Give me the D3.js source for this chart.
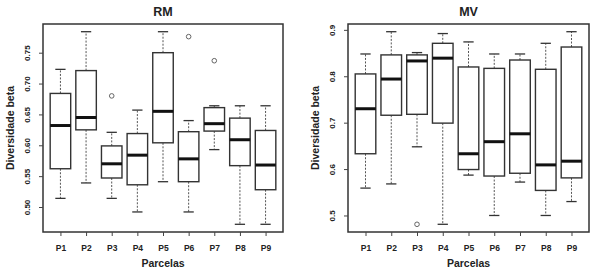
<!DOCTYPE html>
<html>
<head>
<meta charset="utf-8">
<script src="https://cdn.jsdelivr.net/npm/d3@7"></script>
<style>
  body { margin: 0; background: #fff; }
  text { font-family: "Liberation Sans", Arial, sans-serif; font-weight: bold; fill: #222; }
</style>
</head>
<body>
<svg id="chart" width="595" height="272"></svg>
<script>
// parcel names
var parcels = ["P1", "P2", "P3", "P4", "P5", "P6", "P7", "P8", "P9"];

// RM: whisker low, q1, median, q3, whisker high
var rmLow  = [0.514, 0.539, 0.514, 0.492, 0.541, 0.492, 0.593, 0.472, 0.472];
var rmQ1   = [0.562, 0.625, 0.547, 0.536, 0.604, 0.541, 0.623, 0.567, 0.528];
var rmMed  = [0.632, 0.645, 0.570, 0.584, 0.655, 0.578, 0.635, 0.609, 0.568];
var rmQ3   = [0.684, 0.721, 0.599, 0.619, 0.750, 0.622, 0.661, 0.644, 0.624];
var rmHigh = [0.723, 0.784, 0.621, 0.657, 0.784, 0.640, 0.664, 0.664, 0.664];
var rmOut  = [[], [], [0.680], [], [], [0.776], [0.737], [], []];
var rmTicks = ["0.50", "0.55", "0.60", "0.65", "0.70", "0.75"];

// MV
var mvLow  = [0.559, 0.568, 0.648, 0.481, 0.587, 0.500, 0.572, 0.500, 0.530];
var mvQ1   = [0.633, 0.716, 0.718, 0.699, 0.599, 0.585, 0.591, 0.554, 0.581];
var mvMed  = [0.730, 0.794, 0.833, 0.839, 0.633, 0.659, 0.676, 0.609, 0.617];
var mvQ3   = [0.805, 0.846, 0.846, 0.871, 0.820, 0.817, 0.835, 0.815, 0.863];
var mvHigh = [0.848, 0.896, 0.851, 0.892, 0.874, 0.848, 0.848, 0.871, 0.896];
var mvOut  = [[], [], [0.481], [], [], [], [], [], []];
var mvTicks = ["0.5", "0.6", "0.7", "0.8", "0.9"];

var svg = d3.select("#chart");

function panel(title, low, q1, med, q3, high, out, ticks, box) {
  var rows = parcels.map(function(p, i) {
    return {name: p, low: low[i], q1: q1[i], med: med[i], q3: q3[i], high: high[i], out: out[i]};
  });

  var all = low.concat(high, d3.merge(out));
  var mn = d3.min(all), mx = d3.max(all), pad = (mx - mn) * 0.04;

  var y = d3.scaleLinear()
    .domain([mn - pad, mx + pad])
    .range([box.bottom, box.top]);

  var x = d3.scalePoint()
    .domain(parcels)
    .range([box.left, box.right])
    .padding(0.68);

  var step = x.step();
  var bw = step * 0.8;

  var g = svg.append("g");

  // frame
  g.append("rect")
    .attr("x", box.left).attr("y", box.top)
    .attr("width", box.right - box.left).attr("height", box.bottom - box.top)
    .attr("fill", "none").attr("stroke", "#333").attr("stroke-width", 1.5);

  // axes
  var yAxis = g.append("g")
    .attr("transform", `translate(${box.left},0)`)
    .call(d3.axisLeft(y).tickValues(ticks.map(Number)).tickFormat((d, i) => ticks[i]).tickSize(4));
  yAxis.select(".domain").remove();
  yAxis.selectAll("line").attr("stroke", "#444");
  yAxis.selectAll("text")
    .attr("x", null).attr("y", null).attr("dy", null)
    .attr("text-anchor", "middle")
    .attr("font-size", 8)
    .attr("transform", "translate(-13,0) rotate(-90)");

  var xAxis = g.append("g")
    .attr("transform", `translate(0,${box.bottom})`)
    .call(d3.axisBottom(x).tickSize(4).tickPadding(9));
  xAxis.select(".domain").remove();
  xAxis.selectAll("line").attr("stroke", "#444");
  xAxis.selectAll("text").attr("font-size", 8.5);

  // boxes
  var b = g.selectAll("g.bx").data(rows).enter().append("g").attr("class", "bx");

  b.append("line")
    .attr("x1", d => x(d.name)).attr("x2", d => x(d.name))
    .attr("y1", d => y(d.q3)).attr("y2", d => y(d.high))
    .attr("stroke", "#555").attr("stroke-dasharray", "2,1.5");
  b.append("line")
    .attr("x1", d => x(d.name)).attr("x2", d => x(d.name))
    .attr("y1", d => y(d.q1)).attr("y2", d => y(d.low))
    .attr("stroke", "#555").attr("stroke-dasharray", "2,1.5");

  ["low", "high"].forEach(function(k) {
    b.append("line")
      .attr("x1", d => x(d.name) - bw / 4).attr("x2", d => x(d.name) + bw / 4)
      .attr("y1", d => y(d[k])).attr("y2", d => y(d[k]))
      .attr("stroke", "#333").attr("stroke-width", 1.3);
  });

  b.append("rect")
    .attr("x", d => x(d.name) - bw / 2)
    .attr("y", d => y(d.q3))
    .attr("width", bw)
    .attr("height", d => y(d.q1) - y(d.q3))
    .attr("fill", "#fff").attr("stroke", "#333").attr("stroke-width", 1.4);

  b.append("line")
    .attr("x1", d => x(d.name) - bw / 2).attr("x2", d => x(d.name) + bw / 2)
    .attr("y1", d => y(d.med)).attr("y2", d => y(d.med))
    .attr("stroke", "#111").attr("stroke-width", 3);

  b.selectAll("circle").data(d => d.out.map(v => ({name: d.name, v: v}))).enter()
    .append("circle")
    .attr("cx", d => x(d.name)).attr("cy", d => y(d.v))
    .attr("r", 2.3).attr("fill", "none").attr("stroke", "#666").attr("stroke-width", 1);

  // labels
  g.append("text")
    .attr("x", (box.left + box.right) / 2).attr("y", 16)
    .attr("text-anchor", "middle").attr("font-size", 12.5)
    .text(title);

  g.append("text")
    .attr("x", (box.left + box.right) / 2).attr("y", 267)
    .attr("text-anchor", "middle").attr("font-size", 10.5)
    .text("Parcelas");

  g.append("text")
    .attr("transform", `translate(${box.left - 29},${(box.top + box.bottom) / 2}) rotate(-90)`)
    .attr("text-anchor", "middle").attr("font-size", 10.5)
    .text("Diversidade beta");
}

panel("RM", rmLow, rmQ1, rmMed, rmQ3, rmHigh, rmOut, rmTicks, {left: 43, right: 283, top: 24, bottom: 232});
panel("MV", mvLow, mvQ1, mvMed, mvQ3, mvHigh, mvOut, mvTicks, {left: 348, right: 589, top: 24, bottom: 232});
</script>
</body>
</html>
